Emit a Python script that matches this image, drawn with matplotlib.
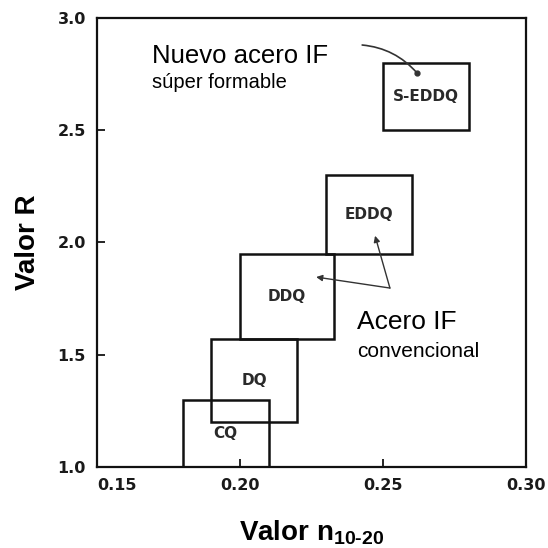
import matplotlib.pyplot as plt
from matplotlib.patches import Rectangle

plt.rcParams['font.family'] = ['Liberation Sans', 'DejaVu Sans']
plt.rcParams['mathtext.fontset'] = 'custom'
plt.rcParams['mathtext.rm'] = 'Liberation Sans:bold'
plt.rcParams['mathtext.it'] = 'Liberation Sans:bold'
plt.rcParams['mathtext.bf'] = 'Liberation Sans:bold'

# steel grades: ranges of n value (x) and R value (y)
grades = ['CQ', 'DQ', 'DDQ', 'EDDQ', 'S-EDDQ']
n_min = [0.18, 0.19, 0.20, 0.23, 0.25]
n_max = [0.21, 0.22, 0.233, 0.26, 0.28]
r_min = [1.0, 1.2, 1.57, 1.95, 2.5]
r_max = [1.3, 1.57, 1.95, 2.3, 2.8]

x_ticks = [0.15, 0.20, 0.25, 0.30]
y_ticks = [1.0, 1.5, 2.0, 2.5, 3.0]

fig = plt.figure(figsize=(5.48, 5.48), dpi=100)
ax = fig.add_axes([0.177, 0.148, 0.783, 0.819])

for g, x0, x1, y0, y1 in zip(grades, n_min, n_max, r_min, r_max):
    ax.add_patch(Rectangle((x0, y0), x1 - x0, y1 - y0, fill=False,
                           edgecolor='#111111', linewidth=1.8, zorder=3))
    ax.text((x0 + x1) / 2, (y0 + y1) / 2, g, ha='center', va='center',
            fontsize=11, fontweight='bold', family='DejaVu Sans',
            color='#2a2a2a', zorder=4)

# annotations
ax.text(0.1692, 2.80, 'Nuevo acero IF', fontsize=18.5, ha='left', va='baseline')
ax.text(0.1692, 2.69, 'súper formable', fontsize=14.5, ha='left', va='baseline')
ax.text(0.2409, 1.615, 'Acero IF', fontsize=19, ha='left', va='baseline')
ax.text(0.2409, 1.49, 'convencional', fontsize=15, ha='left', va='baseline')

arrow = dict(arrowstyle='-|>', lw=1.0, color='#333333', mutation_scale=9,
             shrinkA=0, shrinkB=0)
ax.annotate('', xy=(0.2472, 2.03), xytext=(0.2524, 1.797), arrowprops=arrow)
ax.annotate('', xy=(0.2266, 1.846), xytext=(0.2524, 1.797), arrowprops=arrow)
ax.annotate('', xy=(0.2619, 2.755), xytext=(0.2427, 2.88),
            arrowprops=dict(arrowstyle='-', lw=1.2, color='#333333',
                            shrinkA=0, shrinkB=0,
                            connectionstyle='arc3,rad=-0.2'))
ax.plot([0.2619], [2.755], marker='o', ms=3.5, color='#333333')

ax.set_xlim(0.15, 0.30)
ax.set_ylim(1.0, 3.0)
ax.set_xticks(x_ticks)
ax.set_xticklabels(['%.2f' % v for v in x_ticks])
ax.set_yticks(y_ticks)
ax.set_yticklabels(['%.1f' % v for v in y_ticks])
for lab in ax.get_xticklabels() + ax.get_yticklabels():
    lab.set_fontfamily('DejaVu Sans')
    lab.set_fontweight('bold')
    lab.set_fontsize(11.5)
    lab.set_color('#1a1a1a')
ax.get_xticklabels()[0].set_ha('left')
ax.tick_params(direction='in', length=6, width=1.2, pad=8)
for s in ax.spines.values():
    s.set_linewidth(1.6)
    s.set_color('#111111')

ax.set_ylabel('Valor R', fontsize=20, fontweight='bold', labelpad=12)
ax.set_xlabel(r'Valor n$_{10\text{-}20}$', fontsize=20, fontweight='bold',
              labelpad=18)

plt.savefig('out.png', dpi=100)
